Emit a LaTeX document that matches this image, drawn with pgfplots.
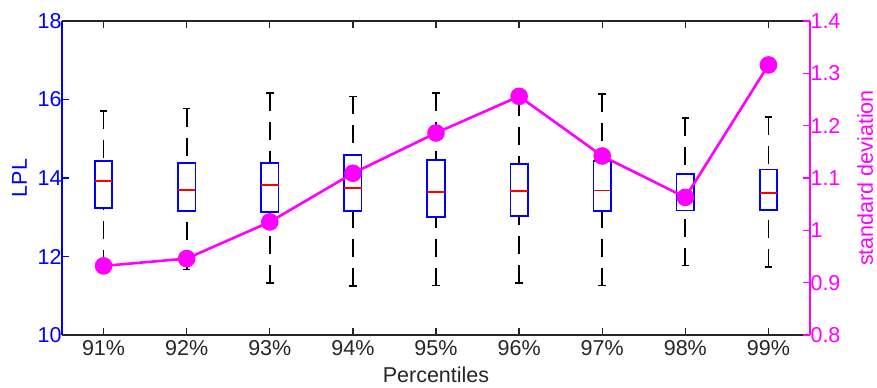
\documentclass[border=0pt]{standalone}
\usepackage{pgfplots}
\pgfplotsset{compat=1.18}
\usepackage{fontspec}
\setmainfont{Liberation Sans}
\definecolor{axgray}{RGB}{38,38,38}
\definecolor{mag}{RGB}{255,0,255}
\definecolor{bl}{RGB}{0,0,255}
\definecolor{rd}{RGB}{255,0,0}
\begin{document}
\begin{tikzpicture}
\begin{axis}[
  scale only axis, width=748pt, height=314pt,
  xmin=0.5, xmax=9.5, ymin=10, ymax=18,
  axis x line*=box,
  axis y line*=left,
  unbounded coords=jump,
  xtick={1,2,3,4,5,6,7,8,9},
  xticklabels={91\%,92\%,93\%,94\%,95\%,96\%,97\%,98\%,99\%},
  ytick={10,12,14,16,18},
  xtick pos=both,
  tick align=inside,
  major tick length=7pt,
  y axis line style={bl, line width=1.5pt},
  x axis line style={axgray, line width=1.5pt},
  xtick style={axgray, line width=1.4pt},
  ytick style={bl, line width=1.4pt},
  /pgf/number format/assume math mode=true,
  tick label style={font=\fontsize{21.5}{25}\selectfont},
  xticklabel style={axgray, yshift=-2pt},
  yticklabel style={bl, xshift=3pt},
  label style={font=\fontsize{21.5}{25}\selectfont},
  xlabel={Percentiles},
  xlabel style={axgray, at={(axis description cs:0.5,-0.127)}, anchor=center},
  ylabel={LPL},
  ylabel style={bl, at={(axis description cs:-0.0468,0.5)}, anchor=base},
]
% upper whiskers (dashed, from whisker end down to upper quartile)
\addplot[black, line width=1.7pt, dash pattern=on 18pt off 11pt] coordinates {
(1,15.71) (1,14.43) (1,nan)
(2,15.77) (2,14.38) (2,nan)
(3,16.17) (3,14.38) (3,nan)
(4,16.08) (4,14.58) (4,nan)
(5,16.17) (5,14.45) (5,nan)
(6,16.05) (6,14.36) (6,nan)
(7,16.14) (7,14.43) (7,nan)
(8,15.52) (8,14.11) (8,nan)
(9,15.55) (9,14.22)};
% lower whiskers (dashed, from whisker end up to lower quartile)
\addplot[black, line width=1.7pt, dash pattern=on 18pt off 11pt] coordinates {
(1,11.70) (1,13.23) (1,nan)
(2,11.67) (2,13.16) (2,nan)
(3,11.33) (3,13.13) (3,nan)
(4,11.24) (4,13.16) (4,nan)
(5,11.26) (5,13.01) (5,nan)
(6,11.32) (6,13.03) (6,nan)
(7,11.26) (7,13.16) (7,nan)
(8,11.77) (8,13.17) (8,nan)
(9,11.73) (9,13.18)};
% whisker caps
\addplot[black, line width=1.7pt] coordinates {
(0.955,15.71) (1.045,15.71) (1,nan) (0.955,11.70) (1.045,11.70) (1,nan)
(1.955,15.77) (2.045,15.77) (2,nan) (1.955,11.67) (2.045,11.67) (2,nan)
(2.955,16.17) (3.045,16.17) (3,nan) (2.955,11.33) (3.045,11.33) (3,nan)
(3.955,16.08) (4.045,16.08) (4,nan) (3.955,11.24) (4.045,11.24) (4,nan)
(4.955,16.17) (5.045,16.17) (5,nan) (4.955,11.26) (5.045,11.26) (5,nan)
(5.955,16.05) (6.045,16.05) (6,nan) (5.955,11.32) (6.045,11.32) (6,nan)
(6.955,16.14) (7.045,16.14) (7,nan) (6.955,11.26) (7.045,11.26) (7,nan)
(7.955,15.52) (8.045,15.52) (8,nan) (7.955,11.77) (8.045,11.77) (8,nan)
(8.955,15.55) (9.045,15.55) (9,nan) (8.955,11.73) (9.045,11.73)};
% boxes (lower to upper quartile)
\addplot[bl, line width=1.7pt, line join=miter, line cap=rect] coordinates {
(0.895,13.23) (1.105,13.23) (1.105,14.43) (0.895,14.43) (0.895,13.23) (1,nan)
(1.895,13.16) (2.105,13.16) (2.105,14.38) (1.895,14.38) (1.895,13.16) (2,nan)
(2.895,13.13) (3.105,13.13) (3.105,14.38) (2.895,14.38) (2.895,13.13) (3,nan)
(3.895,13.16) (4.105,13.16) (4.105,14.58) (3.895,14.58) (3.895,13.16) (4,nan)
(4.895,13.01) (5.105,13.01) (5.105,14.45) (4.895,14.45) (4.895,13.01) (5,nan)
(5.895,13.03) (6.105,13.03) (6.105,14.36) (5.895,14.36) (5.895,13.03) (6,nan)
(6.895,13.16) (7.105,13.16) (7.105,14.43) (6.895,14.43) (6.895,13.16) (7,nan)
(7.895,13.17) (8.105,13.17) (8.105,14.11) (7.895,14.11) (7.895,13.17) (8,nan)
(8.895,13.18) (9.105,13.18) (9.105,14.22) (8.895,14.22) (8.895,13.18)};
% medians
\addplot[rd, line width=1.7pt] coordinates {
(0.895,13.92) (1.105,13.92) (1,nan)
(1.895,13.69) (2.105,13.69) (2,nan)
(2.895,13.82) (3.105,13.82) (3,nan)
(3.895,13.74) (4.105,13.74) (4,nan)
(4.895,13.64) (5.105,13.64) (5,nan)
(5.895,13.67) (6.105,13.67) (6,nan)
(6.895,13.68) (7.105,13.68) (7,nan)
(7.895,13.50) (8.105,13.50) (8,nan)
(8.895,13.61) (9.105,13.61)};
\coordinate (SW) at (rel axis cs:0,0);
\coordinate (NE) at (rel axis cs:1,1);
\end{axis}
\begin{axis}[
  scale only axis, width=748pt, height=314pt,
  xmin=0.5, xmax=9.5, ymin=0.8, ymax=1.4,
  axis x line=none,
  axis y line*=right,
  ytick={0.8,0.9,1,1.1,1.2,1.3,1.4},
  yticklabels={0.8,0.9,1,1.1,1.2,1.3,1.4},
  tick align=inside,
  major tick length=7pt,
  y axis line style={mag, line width=1.5pt},
  ytick style={mag, line width=1.4pt},
  tick label style={font=\fontsize{21.5}{25}\selectfont},
  yticklabel style={mag, xshift=-3pt},
  ylabel={standard deviation},
  ylabel style={mag, font=\fontsize{21.5}{25}\selectfont, at={(axis description cs:1.084,0.5)}, anchor=base},
]
\addplot[mag, line width=2.6pt, mark=*, mark size=7.5pt, mark options={fill=mag, draw=mag}] coordinates {
(1,0.932) (2,0.946) (3,1.016) (4,1.109) (5,1.186) (6,1.256) (7,1.142) (8,1.063) (9,1.316)};
\end{axis}
\pgfresetboundingbox
\path[use as bounding box] ([shift={(-62pt,-53pt)}]SW) rectangle ([shift={(67pt,21pt)}]NE);
\end{tikzpicture}
\end{document}
